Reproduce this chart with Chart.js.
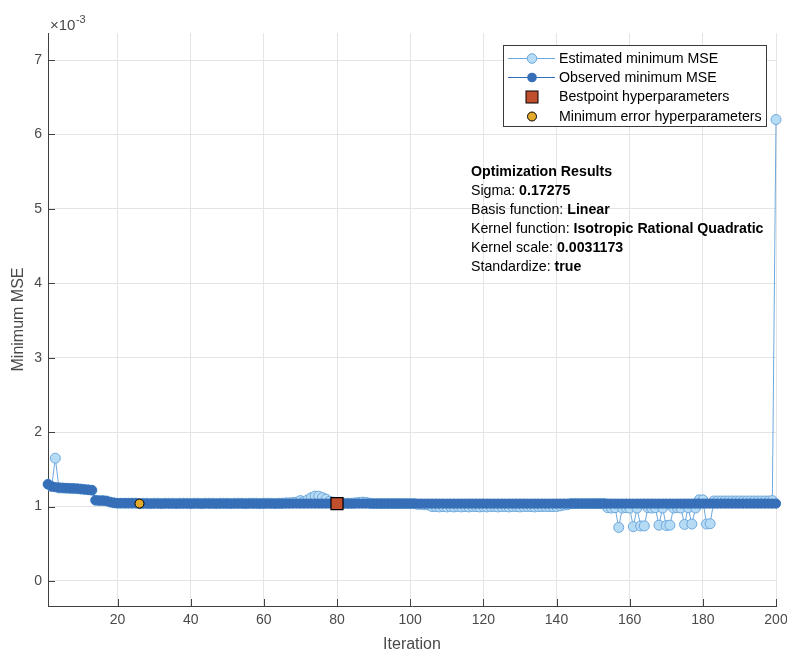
<!DOCTYPE html>
<html>
<head>
<meta charset="utf-8">
<script src="https://cdn.jsdelivr.net/npm/chart.js@4.4.1/dist/chart.umd.min.js"></script>
<style>
  html, body { margin: 0; padding: 0; background: #ffffff; }
  #wrap { width: 787px; height: 653px; position: relative; }
</style>
</head>
<body>
<div id="wrap"><canvas id="c" width="787" height="653"></canvas></div>
<script>
// Values in units of 1e-3 (axis shows x10^-3)
const observedMSE = [
  1.30,1.27,1.26,1.255,1.25,1.25,1.245,1.245,1.24,1.235,
  1.23,1.225,1.22,1.085,1.08,1.08,1.075,1.06,1.05,1.045,
  1.045,1.045,1.045,1.045,1.045,1.04,1.04,1.04,1.04,1.04,
  1.04,1.04,1.04,1.04,1.04,1.04,1.04,1.04,1.04,1.04,
  1.04,1.04,1.04,1.04,1.04,1.04,1.04,1.04,1.04,1.04,
  1.04,1.04,1.04,1.04,1.04,1.04,1.04,1.04,1.04,1.04,
  1.04,1.04,1.04,1.04,1.04,1.04,1.04,1.04,1.04,1.04,
  1.04,1.04,1.04,1.04,1.04,1.04,1.04,1.04,1.04,1.04,
  1.04,1.04,1.04,1.04,1.04,1.04,1.04,1.04,1.04,1.04,
  1.04,1.04,1.04,1.04,1.04,1.04,1.04,1.04,1.04,1.04,
  1.04,1.04,1.04,1.04,1.04,1.04,1.04,1.04,1.04,1.04,
  1.04,1.04,1.04,1.04,1.04,1.04,1.04,1.04,1.04,1.04,
  1.04,1.04,1.04,1.04,1.04,1.04,1.04,1.04,1.04,1.04,
  1.04,1.04,1.04,1.04,1.04,1.04,1.04,1.04,1.04,1.04,
  1.04,1.04,1.04,1.04,1.04,1.04,1.04,1.04,1.04,1.04,
  1.04,1.04,1.04,1.04,1.04,1.04,1.04,1.04,1.04,1.04,
  1.04,1.04,1.04,1.04,1.04,1.04,1.04,1.04,1.04,1.04,
  1.04,1.04,1.04,1.04,1.04,1.04,1.04,1.04,1.04,1.04,
  1.04,1.04,1.04,1.04,1.04,1.04,1.04,1.04,1.04,1.04,
  1.04,1.04,1.04,1.04,1.04,1.04,1.04,1.04,1.04,1.04
];
const estimatedMSE = [
  1.30,1.27,1.65,1.25,1.25,1.245,1.245,1.24,1.24,1.235,
  1.23,1.225,1.22,1.085,1.08,1.08,1.075,1.06,1.05,1.045,
  1.045,1.045,1.045,1.045,1.045,1.04,1.045,1.045,1.04,1.045,
  1.045,1.04,1.045,1.045,1.045,1.04,1.045,1.045,1.045,1.04,
  1.045,1.045,1.04,1.045,1.045,1.045,1.04,1.045,1.045,1.045,
  1.04,1.045,1.045,1.045,1.04,1.045,1.045,1.045,1.04,1.045,
  1.045,1.045,1.04,1.045,1.045,1.05,1.05,1.055,1.06,1.08,
  1.07,1.09,1.12,1.14,1.14,1.12,1.10,1.07,1.06,1.05,
  1.045,1.045,1.045,1.045,1.05,1.055,1.06,1.055,1.045,1.04,
  1.04,1.04,1.04,1.04,1.04,1.04,1.04,1.04,1.04,1.04,
  1.04,1.03,1.03,1.025,1.02,1.0,1.0,0.995,1.0,0.995,
  1.0,0.995,1.0,0.995,1.0,0.995,1.0,1.0,0.995,1.0,
  0.995,1.0,1.0,0.995,1.0,1.0,0.995,1.0,1.0,0.995,
  1.0,1.0,1.0,0.995,1.0,1.0,1.0,1.0,1.0,1.0,
  1.01,1.02,1.025,1.04,1.04,1.04,1.04,1.04,1.04,1.04,
  1.04,1.04,1.04,0.985,0.98,0.985,0.72,0.98,0.985,0.98,
  0.73,0.98,0.74,0.74,0.985,0.98,0.985,0.75,0.98,0.745,
  0.75,0.98,0.985,0.98,0.76,0.985,0.765,0.98,1.09,1.09,
  0.765,0.77,1.075,1.075,1.075,1.075,1.075,1.075,1.075,1.075,
  1.075,1.075,1.075,1.075,1.075,1.075,1.075,1.075,1.08,6.2
];
const bestPoint = [{ x: 80, y: 1.04 }];
const minErrorPoint = [{ x: 26, y: 1.04 }];
const xTickValues = [20, 40, 60, 80, 100, 120, 140, 160, 180, 200];
const yTickValues = [0, 1, 2, 3, 4, 5, 6, 7];
const legendLabels = ['Estimated minimum MSE', 'Observed minimum MSE', 'Bestpoint hyperparameters', 'Minimum error hyperparameters'];
const resultLines = [
  ['Optimization Results', ''],
  ['Sigma: ', '0.17275'],
  ['Basis function: ', 'Linear'],
  ['Kernel function: ', 'Isotropic Rational Quadratic'],
  ['Kernel scale: ', '0.0031173'],
  ['Standardize: ', 'true']
];

const FONT = '"Liberation Sans", Arial, Helvetica, sans-serif';
const C_EST_FILL = 'rgb(182,219,245)';
const C_EST_EDGE = 'rgb(110,168,220)';
const C_OBS = 'rgb(54,111,184)';
const C_BEST = 'rgb(193,79,45)';
const C_MINERR = 'rgb(227,170,45)';
const C_AXIS = '#404040';
const C_TEXT = '#4a4a4a';

const toXY = arr => arr.map((v, i) => ({ x: i + 1, y: v }));

const overlay = {
  id: 'overlay',
  afterDatasetsDraw(chart) {
    const ctx = chart.ctx;
    const a = chart.chartArea;
    const xs = chart.scales.x, ys = chart.scales.y;
    ctx.save();
    ctx.strokeStyle = C_AXIS;
    ctx.lineWidth = 1;
    ctx.beginPath();
    xTickValues.forEach(v => {
      const px = Math.round(xs.getPixelForValue(v)) + 0.5;
      ctx.moveTo(px, a.bottom); ctx.lineTo(px, a.bottom - 7);
    });
    yTickValues.forEach(v => {
      const py = Math.round(ys.getPixelForValue(v)) + 0.5;
      ctx.moveTo(a.left, py); ctx.lineTo(a.left + 7, py);
    });
    ctx.stroke();
    ctx.restore();
  },
  afterDraw(chart) {
    const ctx = chart.ctx;
    const a = chart.chartArea;
    ctx.save();
    // exponent label
    ctx.fillStyle = C_TEXT;
    ctx.textBaseline = 'alphabetic';
    ctx.textAlign = 'left';
    ctx.font = '15px ' + FONT;
    ctx.fillText('\u00d710', 50, 30);
    const ew = ctx.measureText('\u00d710').width;
    ctx.font = '11px ' + FONT;
    ctx.fillText('-3', 50 + ew + 0.5, 23);
    // axis titles
    ctx.font = '16px ' + FONT;
    ctx.textAlign = 'center';
    ctx.textBaseline = 'middle';
    ctx.fillText('Iteration', (a.left + a.right) / 2, 645);
    ctx.save();
    ctx.translate(19, (a.top + a.bottom) / 2);
    ctx.rotate(-Math.PI / 2);
    ctx.fillText('Minimum MSE', 0, 0);
    ctx.restore();

    // legend
    const lx = 503.5, ly = 45.5, lw = 263, lh = 81;
    ctx.fillStyle = '#ffffff';
    ctx.fillRect(lx, ly, lw, lh);
    ctx.strokeStyle = '#3a3a3a';
    ctx.lineWidth = 1;
    ctx.strokeRect(lx, ly, lw, lh);
    const rows = [58.5, 77.5, 97, 116.5];
    const mx = 532;
    ctx.strokeStyle = C_EST_EDGE;
    ctx.beginPath(); ctx.moveTo(508, rows[0]); ctx.lineTo(555, rows[0]); ctx.stroke();
    ctx.beginPath(); ctx.arc(mx, rows[0], 4.8, 0, Math.PI * 2);
    ctx.fillStyle = C_EST_FILL; ctx.fill(); ctx.strokeStyle = C_EST_EDGE; ctx.stroke();
    ctx.strokeStyle = C_OBS;
    ctx.beginPath(); ctx.moveTo(508, rows[1]); ctx.lineTo(555, rows[1]); ctx.stroke();
    ctx.beginPath(); ctx.arc(mx, rows[1], 4.8, 0, Math.PI * 2);
    ctx.fillStyle = C_OBS; ctx.fill();
    ctx.fillStyle = C_BEST; ctx.strokeStyle = '#000';
    ctx.fillRect(mx - 6, rows[2] - 6, 12, 12);
    ctx.strokeRect(mx - 6, rows[2] - 6, 12, 12);
    ctx.beginPath(); ctx.arc(mx, rows[3], 4.5, 0, Math.PI * 2);
    ctx.fillStyle = C_MINERR; ctx.fill(); ctx.strokeStyle = '#000'; ctx.stroke();
    ctx.fillStyle = '#000';
    ctx.font = '14.2px ' + FONT;
    ctx.textAlign = 'left';
    ctx.textBaseline = 'middle';
    legendLabels.forEach((t, i) => ctx.fillText(t, 559, rows[i] + 0.5));

    // optimization results text
    const tx = 471;
    resultLines.forEach((ln, i) => {
      const y = 172.5 + i * 18.9;
      if (i === 0) {
        ctx.font = 'bold 14.2px ' + FONT;
        ctx.fillText(ln[0], tx, y);
      } else {
        ctx.font = '14.2px ' + FONT;
        ctx.fillText(ln[0], tx, y);
        const w = ctx.measureText(ln[0]).width;
        ctx.font = 'bold 14.2px ' + FONT;
        ctx.fillText(ln[1], tx + w, y);
      }
    });
    ctx.restore();
  }
};

new Chart(document.getElementById('c'), {
  type: 'line',
  data: {
    datasets: [
      {
        label: 'Bestpoint hyperparameters', data: bestPoint, order: 0,
        showLine: false, pointStyle: 'rect', pointRadius: 8.5,
        pointBackgroundColor: C_BEST, pointBorderColor: '#000', pointBorderWidth: 1.2, clip: false
      },
      {
        label: 'Minimum error hyperparameters', data: minErrorPoint, order: 1,
        showLine: false, pointStyle: 'circle', pointRadius: 4.5,
        pointBackgroundColor: C_MINERR, pointBorderColor: '#000', pointBorderWidth: 1, clip: false
      },
      {
        label: 'Observed minimum MSE', data: toXY(observedMSE), order: 2,
        borderColor: C_OBS, borderWidth: 1, pointRadius: 4.6,
        pointBackgroundColor: C_OBS, pointBorderColor: C_OBS, pointBorderWidth: 1, clip: false
      },
      {
        label: 'Estimated minimum MSE', data: toXY(estimatedMSE), order: 3,
        borderColor: C_EST_EDGE, borderWidth: 1, pointRadius: 5,
        pointBackgroundColor: C_EST_FILL, pointBorderColor: C_EST_EDGE, pointBorderWidth: 1, clip: false
      }
    ]
  },
  options: {
    responsive: false,
    animation: false,
    devicePixelRatio: 1,
    layout: { padding: { top: 33, left: 0, right: 11, bottom: 0 } },
    plugins: { legend: { display: false }, tooltip: { enabled: false } },
    elements: { line: { tension: 0 } },
    scales: {
      x: {
        type: 'linear', min: 1, max: 200,
        afterFit: s => { s.height = 47; s.paddingLeft = 0; s.paddingRight = 0; },
        afterBuildTicks: s => { s.ticks = xTickValues.map(v => ({ value: v })); },
        grid: { color: '#e4e4e4', drawTicks: false, lineWidth: 1 },
        border: { display: true, color: C_AXIS, width: 1 },
        ticks: { color: C_TEXT, font: { family: FONT, size: 14 }, padding: 6, maxRotation: 0, autoSkip: false }
      },
      y: {
        type: 'linear', min: -0.336, max: 7.363,
        afterFit: s => { s.width = 48; s.paddingTop = 0; s.paddingBottom = 0; },
        afterBuildTicks: s => { s.ticks = yTickValues.map(v => ({ value: v })); },
        grid: { color: '#e4e4e4', drawTicks: false, lineWidth: 1 },
        border: { display: true, color: C_AXIS, width: 1 },
        ticks: { color: C_TEXT, font: { family: FONT, size: 14 }, padding: 6, callback: v => String(v) }
      }
    }
  },
  plugins: [overlay]
});
</script>
</body>
</html>
